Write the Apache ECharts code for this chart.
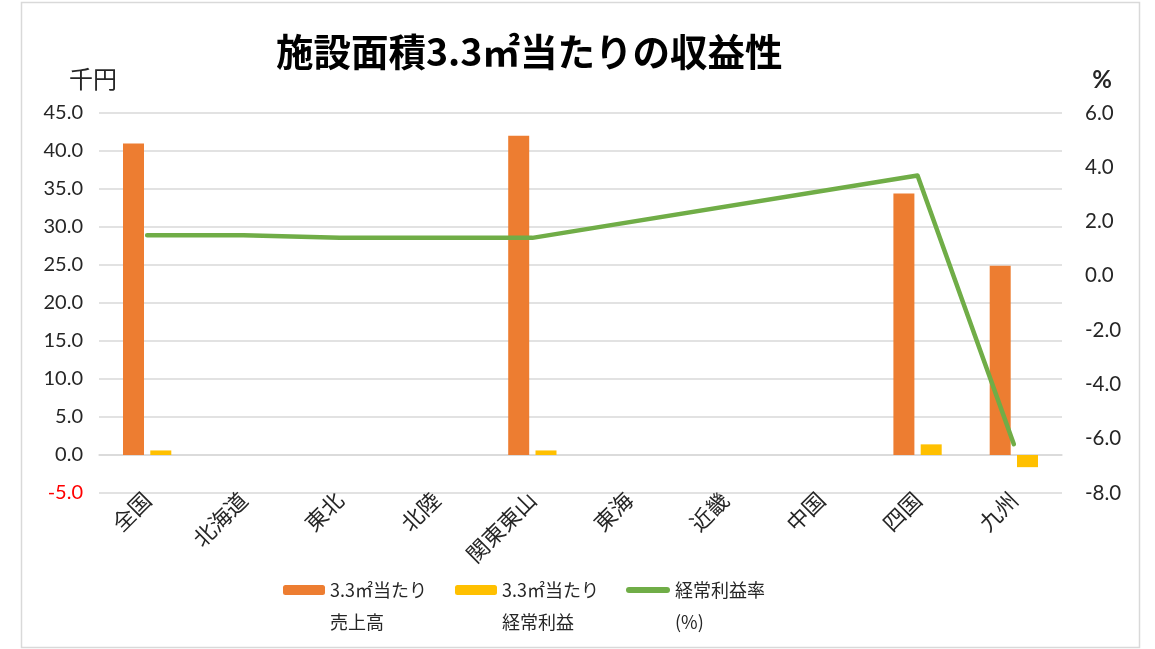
<!DOCTYPE html>
<html><head><meta charset="utf-8">
<script src="https://cdn.jsdelivr.net/npm/echarts@6/dist/echarts.min.js"></script>
<style>html,body{margin:0;padding:0;background:#fff}#c{width:1155px;height:649px}</style>
</head><body><div id="c"></div>
<script>
const categories = ['全国','北海道','東北','北陸','関東東山','東海','近畿','中国','四国','九州'];
const salesName = '3.3㎡当たり\n売上高';
const profitName = '3.3㎡当たり\n経常利益';
const rateName = '経常利益率\n(%)';
const salesValues = [41.0, null, null, null, 42.0, null, null, null, 34.4, 24.9];
const profitValues = [0.6, null, null, null, 0.6, null, null, null, 1.4, -1.6];
const rateValues = [1.5, 1.5, 1.4, 1.4, 1.4, null, null, null, 3.7, -6.2];
const titleText = '施設面積3.3㎡当たりの収益性';
const leftAxisName = '千円';
const rightAxisName = '%';

const FONT = 'Lato, "Noto Sans CJK JP", sans-serif';
const JP = '"Noto Sans CJK JP", sans-serif';
const TXT = '#262626';
const chart = echarts.init(document.getElementById('c'));
const legendText = {fontSize: 18, color: TXT, fontFamily: JP, lineHeight: 32};
const legendFmt = name => ' \n' + name;
const pill = 'path://M3,0 L41,0 A3,3 0 0 1 41,6 L3,6 A3,3 0 0 1 3,0 Z';
chart.setOption({
  animation: false,
  backgroundColor: '#fff',
  title: {text: titleText, left: 271, top: 28, textStyle: {fontSize: 37.5, fontWeight: 'bold', color: '#000', fontFamily: JP}},
  graphic: [{type: 'rect', shape: {x: 21.5, y: 2.5, width: 1118, height: 645}, style: {fill: 'none', stroke: '#d9d9d9', lineWidth: 1.5}, z: -1}],
  grid: {left: 99, right: 93, top: 113, bottom: 156},
  legend: [
    {data: [salesName], left: 283, top: 542, padding: 0, itemWidth: 42, itemHeight: 10, textStyle: legendText, formatter: legendFmt},
    {data: [profitName], left: 455, top: 542, padding: 0, itemWidth: 42, itemHeight: 10, textStyle: legendText, formatter: legendFmt},
    {data: [{name: rateName, icon: pill}], left: 626, top: 542, padding: 0, itemWidth: 44, itemHeight: 6, textStyle: legendText, formatter: legendFmt}
  ],
  xAxis: {
    type: 'category', data: categories,
    offset: -38,
    axisLine: {onZero: false, lineStyle: {color: '#d9d9d9', width: 1.5}},
    axisTick: {show: false},
    axisLabel: {rotate: 45, fontSize: 22, color: TXT, margin: 41, interval: 0, fontFamily: JP}
  },
  yAxis: [
    {type: 'value', min: -5, max: 45, interval: 5,
     name: leftAxisName, nameLocation: 'end', nameGap: 22,
     nameTextStyle: {fontSize: 24, color: TXT, align: 'center', padding: [0, 12, 0, 0], fontFamily: JP},
     axisLine: {show: false}, axisTick: {show: false},
     splitLine: {lineStyle: {color: '#d9d9d9', width: 1.5}},
     axisLabel: {fontSize: 20, margin: 16, fontFamily: FONT, formatter: v => v.toFixed(1),
       color: v => (v < 0 ? '#ff0000' : TXT)}},
    {type: 'value', min: -8, max: 6, interval: 2,
     name: rightAxisName, nameLocation: 'end', nameGap: 21,
     nameTextStyle: {fontSize: 24, fontWeight: 'bold', color: TXT, align: 'center', padding: [0, 0, 0, 80], fontFamily: FONT},
     axisLine: {show: false}, axisTick: {show: false}, splitLine: {show: false},
     axisLabel: {fontSize: 20.5, margin: 23, color: TXT, fontFamily: FONT, formatter: v => v.toFixed(1)}}
  ],
  series: [
    {name: salesName, type: 'bar', data: salesValues, barWidth: 21, barGap: '30%', itemStyle: {color: '#ed7d31'}},
    {name: profitName, type: 'bar', data: profitValues, barWidth: 21, barGap: '30%', itemStyle: {color: '#ffc000'}},
    {name: rateName, type: 'line', yAxisIndex: 1, data: rateValues, connectNulls: true, symbol: 'none',
     lineStyle: {color: '#70ad47', width: 4.5, cap: 'round', join: 'round'}, itemStyle: {color: '#70ad47'}, z: 5}
  ]
});
</script></body></html>
